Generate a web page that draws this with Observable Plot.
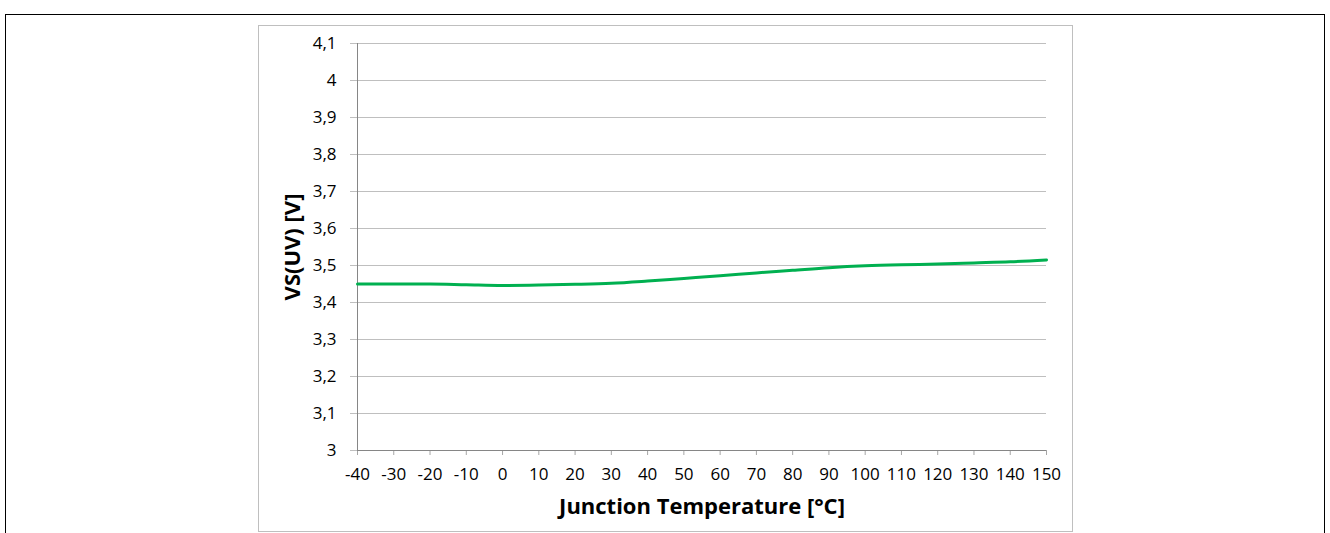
<!DOCTYPE html>
<html>
<head>
<meta charset="utf-8">
<script src="https://cdn.jsdelivr.net/npm/d3@7"></script>
<script src="https://cdn.jsdelivr.net/npm/@observablehq/plot@0.6"></script>
<style>
  html, body { margin: 0; padding: 0; background: #fff; width: 1330px; height: 533px; overflow: hidden; }
  #outer { position: absolute; left: 5px; top: 14px; width: 1320px; height: 600px; border: 1.5px solid #000; box-sizing: border-box; }
  #frame { position: absolute; left: 258px; top: 25px; width: 815px; height: 507px; border: 1px solid #bfbfbf; box-sizing: border-box; background: #fff; }
  #chart { position: absolute; left: 258px; top: 25px; }
</style>
</head>
<body>
<div id="outer"></div>
<div id="frame"></div>
<div id="chart"></div>
<script>
const temperatures = [-40, -30, -20, -10, 0, 10, 20, 30, 40, 50, 60, 70, 80, 90, 100, 110, 120, 130, 140, 150];
const vsUV = [3.450, 3.450, 3.450, 3.448, 3.446, 3.447, 3.449, 3.452, 3.458, 3.465, 3.472, 3.480, 3.487, 3.494, 3.499, 3.502, 3.504, 3.507, 3.510, 3.515];
const xTicks = [-40, -30, -20, -10, 0, 10, 20, 30, 40, 50, 60, 70, 80, 90, 100, 110, 120, 130, 140, 150];
const yTicks = [3, 3.1, 3.2, 3.3, 3.4, 3.5, 3.6, 3.7, 3.8, 3.9, 4, 4.1];
const xTitle = "Junction Temperature [°C]";
const yTitle = "VS(UV) [V]";

const data = temperatures.map((t, i) => ({t, v: vsUV[i]}));
const fmt = v => String(+v.toFixed(1)).replace(".", ",");
const font = "'Open Sans', 'Noto Sans', sans-serif";

const chart = Plot.plot({
  width: 815,
  height: 506,
  marginLeft: 99,
  marginRight: 27,
  marginTop: 18,
  marginBottom: 81,
  style: {fontFamily: font, fontSize: "17px", color: "#000", background: "transparent", overflow: "visible"},
  x: {domain: [-40, 150], ticks: xTicks},
  y: {domain: [3, 4.1], ticks: yTicks},
  marks: [
    Plot.gridY(yTicks, {stroke: "#bfbfbf", strokeOpacity: 1, strokeWidth: 1}),
    Plot.axisY(yTicks, {tickSize: 7, tickPadding: 14, stroke: "#bfbfbf", tickFormat: fmt, fontSize: 17, fill: "#000", label: null}),
    Plot.axisX(xTicks, {tickSize: 5, tickPadding: 12, stroke: "#a6a6a6", tickFormat: d => String(d), fontSize: 17, fill: "#000", label: null}),
    Plot.ruleX([-40], {stroke: "#868686", strokeWidth: 1}),
    Plot.ruleY([3], {stroke: "#868686", strokeWidth: 1}),
    Plot.line(data, {x: "t", y: "v", stroke: "#00b050", strokeWidth: 3, curve: "monotone-x"}),
    Plot.text([xTitle], {frameAnchor: "bottom", lineAnchor: "middle", textAnchor: "middle", dy: 56, text: d => d, fontSize: 22, fontWeight: "bold", fill: "#000"}),
    Plot.text([yTitle], {frameAnchor: "left", lineAnchor: "middle", textAnchor: "middle", dx: -65, rotate: -90, text: d => d, fontSize: 22, fontWeight: "bold", fill: "#000"})
  ]
});
document.getElementById("chart").appendChild(chart);
</script>
</body>
</html>
